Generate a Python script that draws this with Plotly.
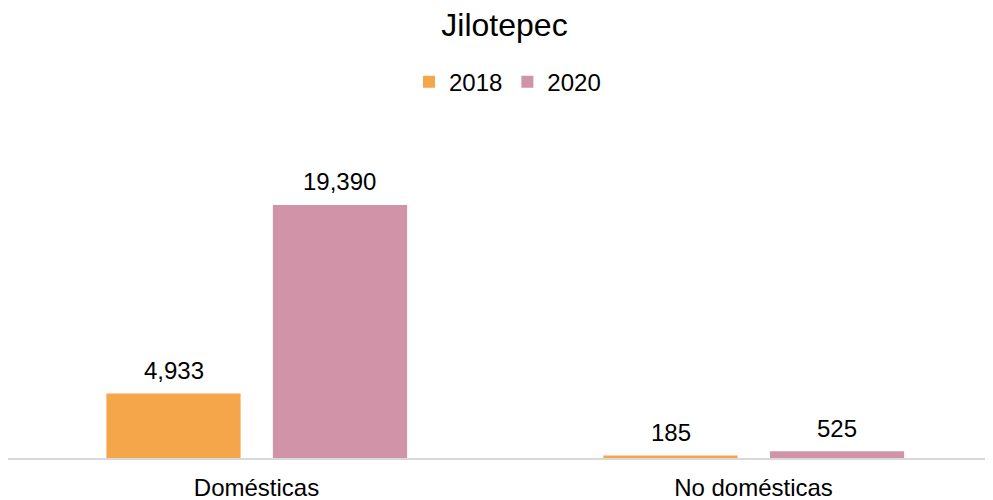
import plotly.graph_objects as go

categories = ["Domésticas", "No domésticas"]
series_names = ["2018", "2020"]
values_2018 = [4933, 185]
values_2020 = [19390, 525]
colors = ["#F5A54A", "#D193A8"]

widths = 0.27
offsets = [-0.302, 0.033]
FONT = "Liberation Sans, Arial"

fig = go.Figure()
for name, vals, col, off in zip(series_names, [values_2018, values_2020], colors, offsets):
    fig.add_trace(go.Bar(
        name=name, x=categories, y=vals, marker_color=col,
        width=widths, offset=off, marker_line_width=0,
    ))
    for i, v in enumerate(vals):
        fig.add_annotation(
            x=i + off + widths / 2, y=v, text=f"{v:,}", showarrow=False,
            yshift=23, font=dict(size=24, color="#000000", family=FONT),
        )

fig.update_layout(
    width=993, height=500,
    margin=dict(l=0, r=0, t=92, b=50),
    paper_bgcolor="white", plot_bgcolor="white",
    title=dict(text="Jilotepec", x=0.5, xanchor="center", xref="paper",
               y=0.966, yref="container", yanchor="middle",
               font=dict(size=32, color="#000000", family=FONT)),
    legend=dict(orientation="h", x=0.503, xanchor="center", y=1.05, yanchor="middle",
                font=dict(size=24, color="#000000", family=FONT),
                itemwidth=30, traceorder="normal"),
    font=dict(family=FONT, color="#000000"),
    showlegend=True,
)
fig.update_xaxes(
    type="category", range=[-0.5, 1.498], showline=True, linecolor="#D9D9D9", linewidth=1.5,
    showgrid=False, ticks="", tickfont=dict(size=24, color="#000000"), ticklabelstandoff=7,
)
fig.update_yaxes(range=[0, 27430], visible=False, showgrid=False)

fig.write_html("out.html")
